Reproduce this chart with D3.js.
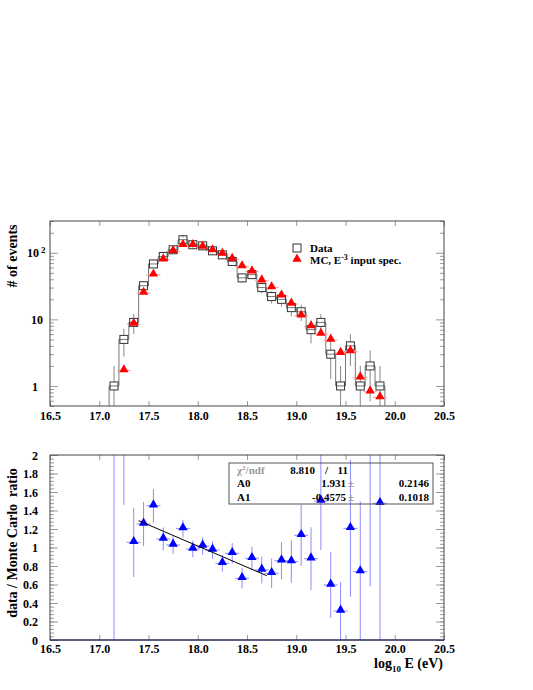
<!DOCTYPE html>
<html>
<head>
<meta charset="utf-8">
<script src="https://cdn.jsdelivr.net/npm/d3@7"></script>
<style>
body { margin: 0; background: #fff; }
text { font-family: "Liberation Serif", "DejaVu Serif", serif; font-weight: bold; fill: #000; white-space: pre; }
</style>
</head>
<body>
<script>
// bin centres in log10(E), bin width 0.1
var binCenters = [17.15, 17.25, 17.35, 17.45, 17.55, 17.65, 17.75, 17.85, 17.95, 18.05,
                  18.15, 18.25, 18.35, 18.45, 18.55, 18.65, 18.75, 18.85, 18.95, 19.05,
                  19.15, 19.25, 19.35, 19.45, 19.55, 19.65, 19.75, 19.85];
var dataCounts = [1, 5, 9, 32, 68, 88, 111, 157, 132, 127,
                  107, 93, 74, 42, 47, 30, 22, 20, 15, 13,
                  7, 9, 3, 1, 4, 1, 2, 1];
var mcCounts = [null, 1.7, 8.5, 24.8, 46.6, 78.5, 105, 129, 129, 122,
                108, 95.6, 80, 62, 52, 38, 30, 22.5, 17, 11.3,
                7.8, 6, 4.9, 3.1, 3.3, 1.33, 0.82, 0.67];
// data / MC ratio and its error
var ratioVals = [3.3, 2.9, 1.056, 1.254, 1.452, 1.092, 1.027, 1.204, 0.984, 1.016,
                 0.973, 0.829, 0.937, 0.667, 0.883, 0.757, 0.721, 0.857, 0.847, 1.132,
                 0.879, 1.503, 0.595, 0.314, 1.207, 0.739, 2.4, 1.478];
var ratioErrs = [3.4, 1.44, 0.375, 0.24, 0.18, 0.125, 0.095, 0.095, 0.09, 0.095,
                 0.095, 0.09, 0.11, 0.11, 0.125, 0.145, 0.16, 0.2, 0.23, 0.33,
                 0.34, 0.53, 0.355, 0.31, 0.74, 0.76, 1.82, 1.5];
// linear fit  A0 + A1*(x-16)
var fitA0 = 1.931, fitA1 = -0.4575, fitFrom = 17.4, fitTo = 18.7, fitX0 = 16;
var xTicks = [16.5, 17.0, 17.5, 18.0, 18.5, 19.0, 19.5, 20.0, 20.5];
var topMajor = [1, 10, 100];
var ratioTicks = [0, 0.2, 0.4, 0.6, 0.8, 1, 1.2, 1.4, 1.6, 1.8, 2];
var statLabels = ["A0", "A1"];
var statVals = ["1.931", "-0.4575"];
var statErrs = ["0.2146", "0.1018"];

var svg = d3.select("body").append("svg").attr("width", 533).attr("height", 690);

var x = d3.scaleLinear().domain([16.5, 20.5]).range([50, 444]);
var yT = d3.scaleLog().domain([0.5, 300]).range([406, 221]);
var yB = d3.scaleLinear().domain([0, 2]).range([640, 455]);

var defs = svg.append("defs");
defs.append("clipPath").attr("id", "cT").append("rect").attr("x", 50).attr("y", 221).attr("width", 394).attr("height", 185);
defs.append("clipPath").attr("id", "cB").append("rect").attr("x", 50).attr("y", 455).attr("width", 394).attr("height", 185);

function tidy(g, col) {
  g.select(".domain").remove();
  g.selectAll(".tick line").attr("stroke", col || "#999");
}

// ---------- top panel ----------
var gTop = svg.append("g");
// minor ticks on the log axis
var minors = yT.ticks().filter(function(d) { return topMajor.indexOf(d) < 0; });
gTop.append("g").attr("transform", "translate(50,0)")
  .call(d3.axisLeft(yT).tickValues(minors).tickSize(-4).tickFormat(""))
  .call(tidy);
gTop.append("g").attr("transform", "translate(444,0)")
  .call(d3.axisRight(yT).tickValues(minors).tickSize(-4).tickFormat(""))
  .call(tidy);
gTop.append("g").attr("transform", "translate(444,0)")
  .call(d3.axisRight(yT).tickValues(topMajor).tickSize(-8).tickFormat(""))
  .call(tidy);
var yl = gTop.append("g").attr("transform", "translate(50,0)")
  .call(d3.axisLeft(yT).tickValues(topMajor).tickSize(-8).tickPadding(7).tickFormat(function(d) { return d === 100 ? "10" : String(d); }))
  .call(tidy);
yl.selectAll("text").attr("font-size", 12).attr("font-family", null).attr("dy", "0.35em");
yl.selectAll("text").filter(function(d) { return d === 100; })
  .attr("text-anchor", "start").attr("x", -23)
  .append("tspan").attr("dy", "-0.5em").attr("dx", "2").attr("font-size", 9).text("2");
yl.selectAll("text").filter(function(d) { return d === 1; }).attr("x", -12);

var xa = gTop.append("g").attr("transform", "translate(0,406)")
  .call(d3.axisBottom(x).tickValues(xTicks).tickSize(-5).tickPadding(5).tickFormat(d3.format(".1f")))
  .call(tidy);
xa.selectAll("text").attr("font-size", 12).attr("font-family", null);
gTop.append("g").attr("transform", "translate(0,221)")
  .call(d3.axisTop(x).tickValues(xTicks).tickSize(-5).tickFormat(""))
  .call(tidy);

var plotT = gTop.append("g").attr("clip-path", "url(#cT)");

// histogram outline
var pts = [[x(binCenters[0] - 0.05), 420]];
binCenters.forEach(function(c, i) {
  pts.push([x(c - 0.05), yT(dataCounts[i])]);
  pts.push([x(c + 0.05), yT(dataCounts[i])]);
});
pts.push([x(binCenters[binCenters.length - 1] + 0.05), 420]);
plotT.append("path").attr("d", d3.line()(pts)).attr("fill", "none").attr("stroke", "#777").attr("stroke-width", 1);

// data error bars (poisson), drawn outside the marker
plotT.selectAll("line.dup").data(binCenters).enter().append("line")
  .attr("x1", function(d) { return x(d); }).attr("x2", function(d) { return x(d); })
  .attr("y1", function(d, i) { return yT(dataCounts[i]) - 4; })
  .attr("y2", function(d, i) { return yT(dataCounts[i] + Math.sqrt(dataCounts[i])); })
  .attr("stroke", "#888").attr("stroke-width", 1);
plotT.selectAll("line.ddn").data(binCenters).enter().append("line")
  .attr("x1", function(d) { return x(d); }).attr("x2", function(d) { return x(d); })
  .attr("y1", function(d, i) { return yT(dataCounts[i]) + 4; })
  .attr("y2", function(d, i) { var lo = dataCounts[i] - Math.sqrt(dataCounts[i]); return lo > 0.01 ? yT(lo) : 420; })
  .attr("stroke", "#888").attr("stroke-width", 1);

// MC
var mcIdx = d3.range(binCenters.length).filter(function(i) { return mcCounts[i] !== null; });
plotT.selectAll("line.mcx").data(mcIdx).enter().append("line")
  .attr("x1", function(i) { return x(binCenters[i]) - 7; }).attr("x2", function(i) { return x(binCenters[i]) + 7; })
  .attr("y1", function(i) { return yT(mcCounts[i]); }).attr("y2", function(i) { return yT(mcCounts[i]); })
  .attr("stroke", "#ff9a9a").attr("stroke-width", 1);

// data squares
plotT.selectAll("rect.dsq").data(binCenters).enter().append("rect")
  .attr("x", function(d) { return x(d) - 4; })
  .attr("y", function(d, i) { return yT(dataCounts[i]) - 4; })
  .attr("width", 8).attr("height", 8)
  .attr("fill", "none").attr("stroke", "#333").attr("stroke-width", 1);

var tri = d3.symbol().type(d3.symbolTriangle).size(38);
plotT.selectAll("path.mc").data(mcIdx).enter().append("path")
  .attr("d", tri)
  .attr("transform", function(i) { return "translate(" + x(binCenters[i]) + "," + (yT(mcCounts[i]) - 1) + ")"; })
  .attr("fill", "#ff0000");

gTop.append("rect").attr("x", 50).attr("y", 221).attr("width", 394).attr("height", 185)
  .attr("fill", "none").attr("stroke", "#444").attr("stroke-width", 1);

// legend
gTop.append("rect").attr("x", 293).attr("y", 244).attr("width", 8).attr("height", 8)
  .attr("fill", "none").attr("stroke", "#333");
gTop.append("text").attr("x", 310).attr("y", 252).attr("font-size", 11).text("Data");
gTop.append("path").attr("d", tri).attr("transform", "translate(297,259)").attr("fill", "#ff0000");
var lt = gTop.append("text").attr("x", 310).attr("y", 264).attr("font-size", 11);
lt.append("tspan").text("MC, E");
lt.append("tspan").attr("dy", -4).attr("font-size", 8).text("-3");
lt.append("tspan").attr("dy", 4).text(" input spec.");

gTop.append("text").attr("transform", "translate(17,256) rotate(-90)")
  .attr("text-anchor", "middle").attr("font-size", 14).text("# of events");

// ---------- ratio panel ----------
var gBot = svg.append("g");
var rMinor = d3.range(0, 2.001, 0.04).map(function(d) { return +d.toFixed(2); });
gBot.append("g").attr("transform", "translate(50,0)")
  .call(d3.axisLeft(yB).tickValues(rMinor).tickSize(-4).tickFormat(""))
  .call(tidy);
gBot.append("g").attr("transform", "translate(444,0)")
  .call(d3.axisRight(yB).tickValues(rMinor).tickSize(-4).tickFormat(""))
  .call(tidy);
gBot.append("g").attr("transform", "translate(444,0)")
  .call(d3.axisRight(yB).tickValues(ratioTicks).tickSize(-8).tickFormat(""))
  .call(tidy);
var yr = gBot.append("g").attr("transform", "translate(50,0)")
  .call(d3.axisLeft(yB).tickValues(ratioTicks).tickSize(-8).tickPadding(12).tickFormat(function(d) { return String(d); }))
  .call(tidy);
yr.selectAll("text").attr("font-size", 12).attr("font-family", null).attr("dy", "0.35em");

var xb = gBot.append("g").attr("transform", "translate(0,640)")
  .call(d3.axisBottom(x).tickValues(xTicks).tickSize(-5).tickPadding(4).tickFormat(d3.format(".1f")))
  .call(tidy);
xb.selectAll("text").attr("font-size", 12).attr("font-family", null);
gBot.append("g").attr("transform", "translate(0,455)")
  .call(d3.axisTop(x).tickValues(xTicks).tickSize(-5).tickFormat(""))
  .call(tidy);

var plotB = gBot.append("g").attr("clip-path", "url(#cB)");
plotB.selectAll("line.rerr").data(binCenters).enter().append("line")
  .attr("x1", function(d) { return x(d); }).attr("x2", function(d) { return x(d); })
  .attr("y1", function(d, i) { return yB(ratioVals[i] - ratioErrs[i]); })
  .attr("y2", function(d, i) { return yB(ratioVals[i] + ratioErrs[i]); })
  .attr("stroke", "#8c8cff").attr("stroke-width", 1);
plotB.selectAll("line.rx").data(binCenters).enter().append("line")
  .attr("x1", function(d) { return x(d) - 7; }).attr("x2", function(d) { return x(d) + 7; })
  .attr("y1", function(d, i) { return yB(ratioVals[i]); }).attr("y2", function(d, i) { return yB(ratioVals[i]); })
  .attr("stroke", "#8c8cff").attr("stroke-width", 1);
plotB.selectAll("path.rt").data(binCenters).enter().append("path")
  .attr("d", tri)
  .attr("transform", function(d, i) { return "translate(" + x(d) + "," + (yB(ratioVals[i]) - 1) + ")"; })
  .attr("fill", "#0000ff");

plotB.append("line")
  .attr("x1", x(fitFrom)).attr("y1", yB(fitA0 + fitA1 * (fitFrom - fitX0)))
  .attr("x2", x(fitTo)).attr("y2", yB(fitA0 + fitA1 * (fitTo - fitX0)))
  .attr("stroke", "#000").attr("stroke-width", 1);

gBot.append("rect").attr("x", 50).attr("y", 455).attr("width", 394).attr("height", 185)
  .attr("fill", "none").attr("stroke", "#444").attr("stroke-width", 1);
gBot.append("line").attr("x1", 50).attr("x2", 444).attr("y1", 640).attr("y2", 640)
  .attr("stroke", "#1c1c66").attr("stroke-width", 1.2);

// stats box
var st = gBot.append("g");
st.append("rect").attr("x", 229).attr("y", 463).attr("width", 204).attr("height", 41)
  .attr("fill", "none").attr("stroke", "#555").attr("stroke-width", 1);
var chi = st.append("text").attr("x", 237).attr("y", 474).attr("font-size", 11)
  .attr("font-weight", "normal").attr("font-family", "'DejaVu Sans', sans-serif").style("fill", "#999");
chi.append("tspan").text("\u03C7");
chi.append("tspan").attr("dy", -4).attr("font-size", 7).text("2");
chi.append("tspan").attr("dy", 4).text("/ndf");
st.append("text").attr("x", 315).attr("y", 474).attr("font-size", 11).attr("text-anchor", "end").text("8.810");
st.append("text").attr("x", 325).attr("y", 474).attr("font-size", 11).text("/");
st.append("text").attr("x", 348).attr("y", 474).attr("font-size", 11).attr("text-anchor", "end").text("11");
statLabels.forEach(function(lab, i) {
  var yy = 487 + i * 14;
  st.append("text").attr("x", 237).attr("y", yy).attr("font-size", 11).text(lab);
  st.append("text").attr("x", 346).attr("y", yy).attr("font-size", 11).attr("text-anchor", "end").text(statVals[i]);
  st.append("text").attr("x", 348).attr("y", yy).attr("font-size", 11).attr("font-weight", "normal").style("fill", "#999").text("\u00B1");
  st.append("text").attr("x", 429).attr("y", yy).attr("font-size", 11).attr("text-anchor", "end").text(statErrs[i]);
});

gBot.append("text").attr("transform", "translate(17,543) rotate(-90)")
  .attr("text-anchor", "middle").attr("font-size", 14).text("data / Monte Carlo  ratio");
var xt = gBot.append("text").attr("x", 443).attr("y", 668).attr("text-anchor", "end").attr("font-size", 14);
xt.append("tspan").text("log");
xt.append("tspan").attr("dy", 4).attr("font-size", 9).text("10");
xt.append("tspan").attr("dy", -4).text(" E (eV)");
</script>
</body>
</html>
